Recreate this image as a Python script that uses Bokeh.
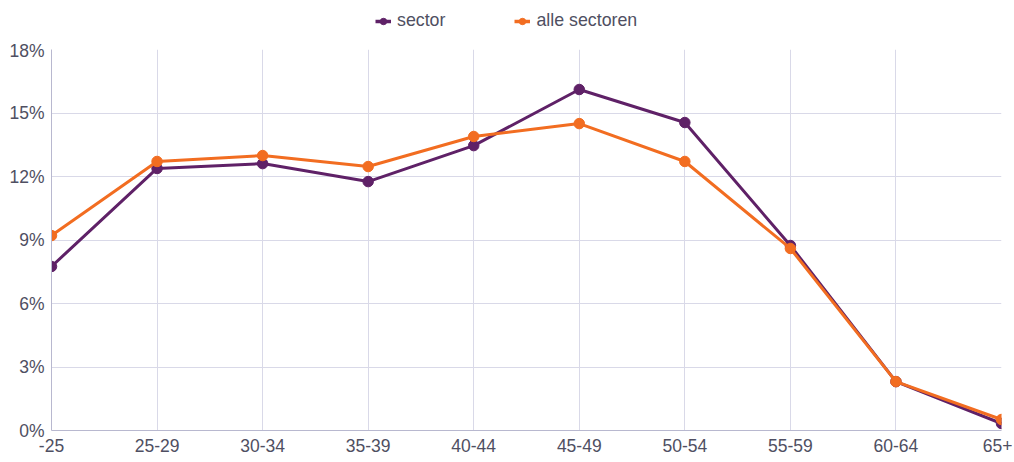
from bokeh.plotting import figure
from bokeh.layouts import column
from bokeh.models import Legend, LegendItem, FixedTicker, Range1d
from bokeh.embed import file_html
from bokeh.resources import INLINE

categories = ["-25", "25-29", "30-34", "35-39", "40-44", "45-49", "50-54", "55-59", "60-64", "65+"]
sector = [7.75, 12.38, 12.61, 11.76, 13.46, 16.11, 14.55, 8.74, 2.31, 0.33]
alle_sectoren = [9.21, 12.71, 12.99, 12.47, 13.89, 14.50, 12.71, 8.60, 2.31, 0.52]
y_ticks = [0, 3, 6, 9, 12, 15, 18]

purple = "#5f2167"
orange = "#f26d21"
text_color = "#4f4f62"
grid_color = "#d9d9e8"

xs = list(range(len(categories)))

# main chart
p = figure(width=1012, height=418, output_backend="svg", toolbar_location=None,
           x_range=Range1d(0, len(categories) - 1), y_range=Range1d(0, 18),
           min_border_left=51, min_border_right=11, min_border_top=9, min_border_bottom=28)
p.outline_line_color = None
p.background_fill_color = "white"

p.line(xs, sector, line_color=purple, line_width=3)
p.scatter(xs, sector, size=10.5, fill_color=purple, line_color=purple)
p.line(xs, alle_sectoren, line_color=orange, line_width=3)
p.scatter(xs, alle_sectoren, size=10.5, fill_color=orange, line_color=orange)

p.xaxis.ticker = FixedTicker(ticks=xs)
p.xaxis.major_label_overrides = {i: c for i, c in enumerate(categories)}
p.yaxis.ticker = FixedTicker(ticks=y_ticks)
p.yaxis.major_label_overrides = {t: f"{t}%" for t in y_ticks}

for ax in (p.xaxis, p.yaxis):
    ax.major_tick_line_color = None
    ax.minor_tick_line_color = None
    ax.major_tick_out = 0
    ax.major_tick_in = 0
    ax.minor_tick_out = 0
    ax.axis_line_color = "#b8b8cf"
    ax.axis_line_width = 1
    ax.major_label_text_color = text_color
    ax.major_label_text_font = "Liberation Sans"
    ax.major_label_text_font_size = "17.5px"
p.xaxis.major_label_standoff = 8
p.yaxis.major_label_standoff = 7

p.xgrid.ticker = FixedTicker(ticks=xs)
p.ygrid.ticker = FixedTicker(ticks=y_ticks)
p.xgrid.grid_line_color = grid_color
p.ygrid.grid_line_color = grid_color

# legend strip above the chart
lg = figure(width=1012, height=40, output_backend="svg", toolbar_location=None,
            x_range=Range1d(-100, -99), y_range=Range1d(-100, -99),
            min_border=0)
lg.axis.visible = False
lg.grid.visible = False
lg.outline_line_color = None
r1 = lg.line(xs, sector, line_color=purple, line_width=3.5)
s1 = lg.scatter(xs, sector, size=10, fill_color=purple, line_color=purple)
r2 = lg.line(xs, alle_sectoren, line_color=orange, line_width=3.5)
s2 = lg.scatter(xs, alle_sectoren, size=10, fill_color=orange, line_color=orange)

legend = Legend(items=[LegendItem(label="sector", renderers=[r1, s1]),
                       LegendItem(label="alle sectoren", renderers=[r2, s2])],
                orientation="horizontal", location=(324, 9))
legend.label_text_font = "Liberation Sans"
legend.label_text_font_size = "17.8px"
legend.label_text_color = text_color
legend.glyph_width = 16
legend.glyph_height = 16
legend.spacing = 69
legend.label_standoff = 6
legend.border_line_color = None
legend.background_fill_alpha = 0
legend.padding = 3
legend.margin = 0
lg.add_layout(legend, "center")

layout = column(lg, p, spacing=0)
open("out.html", "w").write(file_html(layout, INLINE))
